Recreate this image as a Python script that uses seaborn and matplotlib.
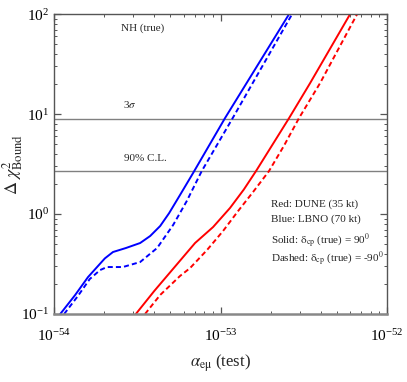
import numpy as np
import pandas as pd
import matplotlib
matplotlib.use("Agg")
import matplotlib.pyplot as plt
import seaborn as sns

# values (x = alpha_emu test, y = delta chi^2)
blue_solid_x = [1.09e-54, 1.34e-54, 1.60e-54, 2.02e-54, 2.26e-54, 2.70e-54, 3.29e-54,
                3.78e-54, 4.34e-54, 4.91e-54, 5.71e-54, 6.84e-54, 1.064e-53, 2.58e-53]
blue_solid_y = [0.100, 0.155, 0.234, 0.360, 0.417, 0.457, 0.513,
                0.603, 0.759, 1.02, 1.55, 2.57, 9.12, 100]

blue_dash_x = [1.15e-54, 1.39e-54, 1.64e-54, 1.89e-54, 2.08e-54, 2.32e-54, 2.59e-54,
               3.29e-54, 4.16e-54, 5.19e-54, 6.27e-54, 7.71e-54, 1.183e-53, 2.69e-53]
blue_dash_y = [0.100, 0.151, 0.224, 0.275, 0.295, 0.295, 0.295,
               0.331, 0.457, 0.776, 1.35, 2.69, 9.12, 100]

red_solid_x = [3.10e-54, 4.0e-54, 5.3e-54, 7.03e-54, 9.02e-54, 1.140e-53, 1.38e-53,
               1.633e-53, 2.58e-53, 3.45e-53, 6.00e-53]
red_solid_y = [0.100, 0.170, 0.295, 0.513, 0.741, 1.15, 1.76,
               2.69, 9.12, 20.4, 100]

red_dash_x = [3.52e-54, 4.34e-54, 5.71e-54, 6.56e-54, 8.30e-54, 1.035e-53, 1.274e-53,
              1.567e-53, 1.954e-53, 2.40e-53, 2.96e-53, 3.96e-53, 6.61e-53]
red_dash_y = [0.100, 0.155, 0.240, 0.288, 0.437, 0.676, 1.07,
              1.66, 2.69, 4.8, 9.12, 20.4, 100]

cl_levels = [9.0, 2.71]
cl_labels = [r"3$\sigma$", "90% C.L."]

sns.set_style("ticks")
plt.rcParams["font.family"] = ["Liberation Serif", "DejaVu Serif"]
plt.rcParams["mathtext.fontset"] = "stix"

fig = plt.figure(figsize=(4.07, 3.82), dpi=100)
ax = fig.add_axes([0.1327, 0.178, 0.8183, 0.785])

curves = [
    (blue_solid_x, blue_solid_y, "blue", "solid"),
    (blue_dash_x, blue_dash_y, "blue", "dashed"),
    (red_solid_x, red_solid_y, "red", "solid"),
    (red_dash_x, red_dash_y, "red", "dashed"),
]
for xs, ys, col, sty in curves:
    df = pd.DataFrame({"x": xs, "y": ys})
    sns.lineplot(data=df, x="x", y="y", ax=ax, color=col, lw=1.4,
                 sort=False, estimator=None)
    ax.lines[-1].set_solid_joinstyle("round")
    if sty == "dashed":
        ax.lines[-1].set_dashes([2.6, 1.6])

for lev in cl_levels:
    ax.axhline(lev, color="#808080", lw=1.0, zorder=1)

ax.set_xscale("log")
ax.set_yscale("log")
ax.set_xlim(1e-54, 1e-52)
ax.set_ylim(0.1, 100)

ax.tick_params(which="both", direction="in", top=True, right=True,
               colors="#555555", labelcolor="black", labelsize=11)
ax.tick_params(which="major", length=5, width=0.9)
ax.tick_params(which="minor", length=2.5, width=0.7)
ax.tick_params(axis="x", pad=10)
for s in ax.spines.values():
    s.set_color("#555555")
    s.set_linewidth(1.0)
ax.spines["bottom"].set_color("#888888")
ax.spines["bottom"].set_linewidth(1.8)

ax.set_xlabel(r"$\alpha_{\mathrm{e\mu}}$ (test)", fontsize=12, labelpad=6)
ax.set_ylabel(r"$\Delta\ \chi^2_{\mathrm{Bound}}$", fontsize=13)
ax.yaxis.set_label_coords(-0.088, 0.5)

tk = dict(transform=ax.transAxes, fontsize=8, ha="left", va="center")
ax.text(0.20, 0.953, "NH (true)", **tk)
ax.text(0.207, 0.697, cl_labels[0], **tk)
ax.text(0.21, 0.52, cl_labels[1], **tk)
ax.text(0.651, 0.367, "Red: DUNE (35 kt)", **tk)
ax.text(0.651, 0.317, "Blue: LBNO (70 kt)", **tk)
ax.text(0.651, 0.243, r"Solid: $\mathrm{\delta_{cp}}$ (true) = 90$^0$", **tk)
ax.text(0.651, 0.183, r"Dashed: $\mathrm{\delta_{cp}}$ (true) = -90$^0$", **tk)

fig.savefig("out.png", dpi=100)
